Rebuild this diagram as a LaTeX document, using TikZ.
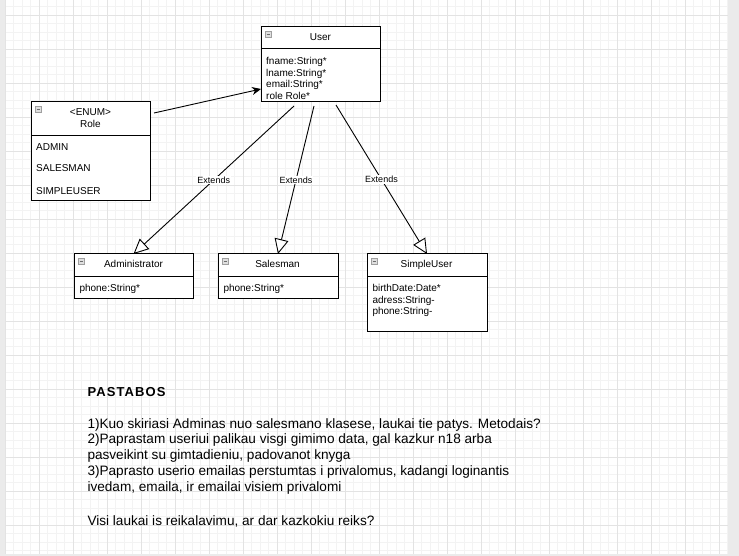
\documentclass[tikz,border=0pt]{standalone}
\usepackage{fontspec}
\setmainfont{Liberation Sans}
\newfontfamily\trackedbold[LetterSpace=8.5]{Liberation Sans Bold}
\usetikzlibrary{arrows.meta}
\definecolor{bggray}{HTML}{EBEBEB}
\definecolor{gridminor}{HTML}{F3F3F3}
\definecolor{gridmajor}{HTML}{E3E3E3}
\newcommand\clsicon[1]{%
  \draw[iconbox] (#1.north west) ++(4,4) rectangle ++(6.5,6.5);
  \draw[iconbar] (#1.north west) ++(5.5,7.25) -- ++(3.5,0);}
\begin{document}
\begin{tikzpicture}[x=1pt,y=-1pt,
  classbox/.style={draw=black, line width=1pt, fill=white, inner sep=0pt, outer sep=0pt, anchor=north west},
  divider/.style={line width=1pt},
  ctitle/.style={font=\fontsize{10}{12}\selectfont, anchor=base, inner sep=0pt},
  cattr/.style={font=\fontsize{10}{12}\selectfont, anchor=base west, inner sep=0pt},
  iconbox/.style={draw=gray!75, fill=gray!25, line width=0.6pt},
  iconbar/.style={draw=gray!85!black, line width=0.9pt},
  extends/.style={draw=black, line width=0.9pt, -{Triangle[open, length=15pt, width=14pt, fill=white]}},
  assoc/.style={draw=black, line width=0.9pt, -{Stealth[length=9pt, width=8pt]}},
  lbl/.style={font=\fontsize{9}{10}\selectfont, fill=white, inner sep=1pt},
  note/.style={font=\fontsize{13.6}{16}\selectfont, anchor=base west, inner sep=0pt}
]
\useasboundingbox (0,0) rectangle (739,556);
% background and grid
\fill[bggray] (0,0) rectangle (739,556);
\fill[white] (5,0) rectangle (728,554);
\foreach \k in {0,...,85} {\draw[gridminor, line width=0.6pt] ({5+8.5*\k},0) -- ({5+8.5*\k},554);}
\foreach \k in {0,...,64} {\draw[gridminor, line width=0.6pt] (5,{6.5+8.5*\k}) -- (728,{6.5+8.5*\k});}
\foreach \k in {0,...,21} {\draw[gridmajor, line width=0.8pt] ({5+34*\k},0) -- ({5+34*\k},554);}
\foreach \k in {0,...,15} {\draw[gridmajor, line width=0.8pt] (5,{15+34*\k}) -- (728,{15+34*\k});}

% User
\node[classbox, minimum width=119pt, minimum height=75pt] (user) at (261,27) {};
\draw[divider] (user.north west) ++(0,22) -- ++(119,0);
\clsicon{user}
\node[ctitle] (usert) at (320.5,40.9) {User};
\node[cattr] (ua1) at (266,64.6) {fname:String*};
\node[cattr] (ua2) at (266,76.2) {lname:String*};
\node[cattr] (ua3) at (266,87.8) {email:String*};
\node[cattr] (ua4) at (266,99.4) {role Role*};

% Role
\node[classbox, minimum width=119pt, minimum height=99pt] (role) at (31,102) {};
\draw[divider] (role.north west) ++(0,34) -- ++(119,0);
\clsicon{role}
\node[ctitle] (rolet1) at (90.5,115.6) {<ENUM>};
\node[ctitle] (rolet2) at (90.5,127.6) {Role};
\node[cattr] (ra1) at (36,150.3) {ADMIN};
\node[cattr] (ra2) at (36,171.8) {SALESMAN};
\node[cattr] (ra3) at (36,194.3) {SIMPLEUSER};

% Administrator
\node[classbox, minimum width=119pt, minimum height=44pt] (admin) at (74,254) {};
\draw[divider] (admin.north west) ++(0,22) -- ++(119,0);
\clsicon{admin}
\node[ctitle] (admint) at (133.5,267.9) {Administrator};
\node[cattr] (aa1) at (79.3,291.3) {phone:String*};

% Salesman
\node[classbox, minimum width=120pt, minimum height=44pt] (sales) at (218,254) {};
\draw[divider] (sales.north west) ++(0,22) -- ++(120,0);
\clsicon{sales}
\node[ctitle] (salest) at (277.5,267.9) {Salesman};
\node[cattr] (sa1) at (223.3,291.3) {phone:String*};

% SimpleUser
\node[classbox, minimum width=120pt, minimum height=77pt] (simple) at (367,254) {};
\draw[divider] (simple.north west) ++(0,22) -- ++(120,0);
\clsicon{simple}
\node[ctitle] (simplet) at (426.5,267.9) {SimpleUser};
\node[cattr] (su1) at (372.3,291.3) {birthDate:Date*};
\node[cattr] (su2) at (372.3,303.1) {adress:String-};
\node[cattr] (su3) at (372.3,314.9) {phone:String-};

% connectors
\coordinate (rout) at (154,113);
\coordinate (uin) at (261,89);
\draw[assoc] (rout) -- (uin);
\coordinate (e1) at (294,106);
\coordinate (e2) at (314,106);
\coordinate (e3) at (336,105);
\draw[extends] (e1) -- node[lbl] (l1) {Extends} (admin.north);
\draw[extends] (e2) -- node[lbl] (l2) {Extends} (sales.north);
\draw[extends] (e3) -- node[lbl] (l3) {Extends} (simple.north);

% notes
\node[anchor=base west, inner sep=0pt, font=\fontsize{13}{16}\trackedbold] (ptitle) at (87.3,396) {PASTABOS};
\node[note] (t1) at (87.3,428.2) {1)Kuo skiriasi Adminas nuo salesmano klasese, laukai tie patys. Metodais?};
\node[note] (t2) at (87.3,443.9) {2)Paprastam useriui palikau visgi gimimo data, gal kazkur n18 arba};
\node[note] (t3) at (87.3,459.9) {pasveikint su gimtadieniu, padovanot knyga};
\node[note] (t4) at (87.3,475.9) {3)Paprasto userio emailas perstumtas i privalomus, kadangi loginantis};
\node[note] (t5) at (87.3,491.6) {ivedam, emaila, ir emailai visiem privalomi};
\node[note] (t6) at (87.3,525.6) {Visi laukai is reikalavimu, ar dar kazkokiu reiks?};
\end{tikzpicture}
\end{document}
